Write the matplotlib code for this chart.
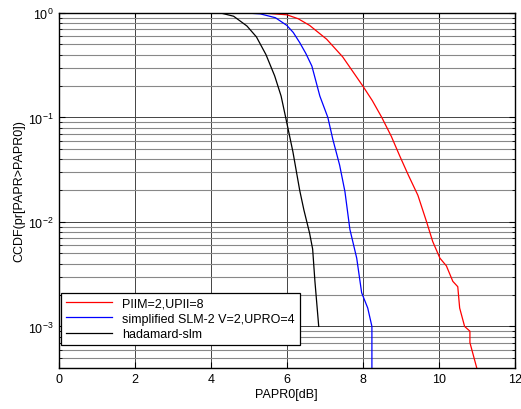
import matplotlib
matplotlib.use("Agg")
import matplotlib.pyplot as plt
from matplotlib.ticker import LogLocator, NullFormatter
import numpy as np

plt.rcParams['font.family'] = ['Liberation Sans', 'DejaVu Sans']

red_x = [0, 5.0, 5.5, 6.0, 6.3, 6.6, 7.05, 7.47, 8.0, 8.25, 8.5, 8.75, 8.97, 9.2, 9.45,
         9.68, 9.84, 10.03, 10.2, 10.37, 10.5, 10.55, 10.68, 10.82, 10.82, 11.0, 11.1]
red_y = [1, 1, 0.99, 0.96, 0.88, 0.76, 0.56, 0.38, 0.2, 0.145, 0.1, 0.066, 0.043, 0.028,
         0.018, 0.01, 0.0065, 0.0045, 0.0038, 0.0027, 0.0024, 0.0015, 0.001, 0.0009,
         0.0007, 0.0004, 0.0002]

blue_x = [0, 4.6, 5.0, 5.3, 5.7, 6.0, 6.17, 6.34, 6.5, 6.66, 6.87, 7.08, 7.21, 7.39,
          7.53, 7.66, 7.84, 7.97, 8.13, 8.24, 8.24]
blue_y = [1, 1, 0.995, 0.98, 0.9, 0.76, 0.65, 0.52, 0.41, 0.31, 0.16, 0.1, 0.062, 0.035,
          0.0195, 0.0085, 0.0045, 0.0021, 0.0015, 0.001, 1e-4]

black_x = [0, 4.0, 4.3, 4.6, 4.95, 5.2, 5.45, 5.68, 5.85, 5.97, 6.16, 6.34, 6.45,
           6.6, 6.68, 6.74, 6.84]
black_y = [1, 1, 0.99, 0.93, 0.75, 0.59, 0.4, 0.25, 0.16, 0.1, 0.047, 0.02, 0.013,
           0.0078, 0.0055, 0.0027, 0.001]

labels = ["PIIM=2,UPII=8", "simplified SLM-2 V=2,UPRO=4", "hadamard-slm"]

fig = plt.figure(figsize=(5.21, 4.10), dpi=100)
ax = fig.add_axes([0.113, 0.10, 0.875, 0.866])

ax.semilogy(red_x, red_y, color="red", lw=0.9, label=labels[0])
ax.semilogy(blue_x, blue_y, color="blue", lw=0.9, label=labels[1])
ax.semilogy(black_x, black_y, color="black", lw=0.9, label=labels[2])

ax.set_xlim(0, 12)
ax.set_ylim(4e-4, 1)
ax.set_xticks(np.arange(0, 13, 2))
ax.yaxis.set_major_locator(LogLocator(base=10, numticks=10))
ax.yaxis.set_minor_locator(LogLocator(base=10, subs=np.arange(2, 10), numticks=20))
ax.yaxis.set_minor_formatter(NullFormatter())

ax.grid(True, which="major", color="#444444", lw=0.7)
ax.grid(True, which="minor", axis="y", color="#888888", lw=0.8)
ax.tick_params(which="both", direction="in", top=True, right=True, labelsize=9)
ax.tick_params(which="major", length=4)
ax.tick_params(which="minor", length=2.5)
for s in ax.spines.values():
    s.set_linewidth(1.0)

ax.set_xlabel("PAPR0[dB]", fontsize=9, labelpad=2)
ax.set_ylabel("CCDF(pr[PAPR>PAPR0])", fontsize=9, labelpad=2)

leg = ax.legend(loc="lower left", bbox_to_anchor=(0.005, 0.065), borderaxespad=0,
                fontsize=9, fancybox=False, edgecolor="black", framealpha=1,
                handlelength=3.7, labelspacing=0.25, borderpad=0.4)
leg.get_frame().set_linewidth(0.9)

fig.savefig("out.png", dpi=100)
